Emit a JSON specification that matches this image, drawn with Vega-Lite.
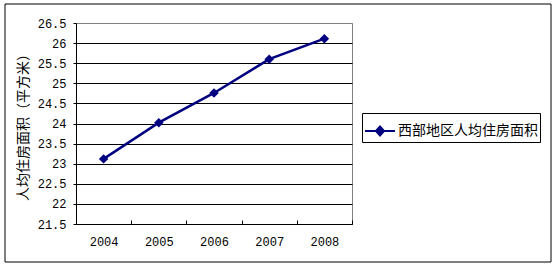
{
  "$schema": "https://vega.github.io/schema/vega-lite/v6.json",
  "width": 276,
  "height": 201,
  "autosize": {"type": "none"},
  "padding": {"left": 76, "top": 23, "right": 201, "bottom": 44},
  "background": "white",
  "config": {
    "view": {"stroke": "#808080", "strokeWidth": 1},
    "axis": {"labelFont": "Liberation Mono", "labelColor": "black", "titleColor": "black", "domainColor": "black", "tickColor": "black"}
  },
  "layer": [
    {
      "data": {"values": [{"k": 1}]},
      "mark": {"type": "rect", "fill": null, "stroke": "black", "strokeWidth": 1},
      "encoding": {
        "x": {"value": -71},
        "x2": {"value": 475},
        "y": {"value": -19},
        "y2": {"value": 239}
      }
    },
    {
      "data": {
        "values": [
          {"year": "2004", "area": 23.12, "series": "西部地区人均住房面积"},
          {"year": "2005", "area": 24.02, "series": "西部地区人均住房面积"},
          {"year": "2006", "area": 24.76, "series": "西部地区人均住房面积"},
          {"year": "2007", "area": 25.6, "series": "西部地区人均住房面积"},
          {"year": "2008", "area": 26.11, "series": "西部地区人均住房面积"}
        ]
      },
      "mark": {"type": "line", "strokeWidth": 2.5, "point": {"shape": "diamond", "size": 90, "filled": true, "opacity": 1}},
      "encoding": {
        "x": {
          "field": "year", "type": "ordinal",
          "scale": {"type": "band", "paddingInner": 0, "paddingOuter": 0},
          "axis": {"title": null, "labelAngle": 0, "tickBand": "extent", "tickSize": -4, "labelPadding": 16, "labelFontSize": 12, "domainColor": "black", "grid": false}
        },
        "y": {
          "field": "area", "type": "quantitative",
          "scale": {"domain": [21.5, 26.5], "nice": false, "zero": false},
          "axis": {
            "title": "人均住房面积（平方米）",
            "titleFont": "Noto Sans CJK SC", "titleFontSize": 14, "titleFontWeight": "normal", "titlePadding": 7,
            "values": [21.5, 22, 22.5, 23, 23.5, 24, 24.5, 25, 25.5, 26, 26.5],
            "labelFontSize": 12, "tickSize": 3, "labelPadding": 7, "format": "",
            "grid": true,
            "gridColor": {"condition": {"test": "datum.value === 26.5", "value": "#808080"}, "value": "black"},
            "gridOpacity": 1
          }
        },
        "color": {
          "field": "series", "type": "nominal",
          "scale": {"range": ["#000080"]},
          "legend": {
            "title": null, "orient": "none", "legendX": 286, "legendY": 90,
            "strokeColor": "black", "padding": 2, "fillColor": "white",
            "labelFont": "Noto Sans CJK SC", "labelFontSize": 14, "labelColor": "black", "labelLimit": 300, "labelOffset": 2,
            "symbolType": "M-1,0L1,0M-0.27,0L0,-0.3L0.27,0L0,0.3Z",
            "symbolSize": 900, "symbolStrokeWidth": 2, "symbolFillColor": "#000080", "symbolStrokeColor": "#000080"
          }
        }
      }
    }
  ]
}
